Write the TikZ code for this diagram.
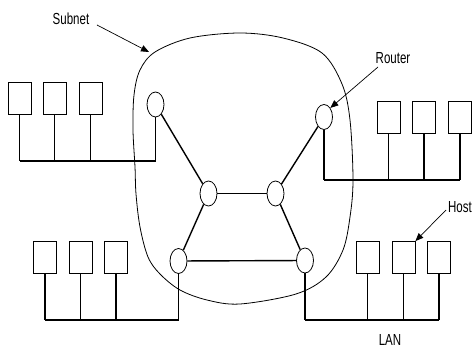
\documentclass[tikz,border=0pt]{standalone}
\usepackage{fontspec}
\setmainfont[FakeStretch=0.72]{Liberation Sans}
\usetikzlibrary{shapes.geometric,arrows.meta}
\begin{document}
\begin{tikzpicture}[x=1pt,y=-1pt,
  host/.style={draw,line width=0.8pt,minimum width=23pt,minimum height=32pt,inner sep=0pt},
  router/.style={draw,ellipse,line width=0.8pt,minimum width=17pt,minimum height=25pt,inner sep=0pt},
  link/.style={line width=1.4pt},
  bus/.style={line width=1.8pt},
  drop/.style={line width=1.1pt},
  lbl/.style={font=\fontsize{16}{16}\selectfont,anchor=base,inner sep=0pt},
  pointer/.style={line width=0.7pt,-{Triangle[length=8pt,width=6.5pt]}},
  subnet/.style={line width=0.8pt}]
\useasboundingbox (0,0) rectangle (473,347);
% subnet boundary
\draw[subnet] plot[smooth cycle,tension=0.55] coordinates {
 (240,33) (283,38) (322,53) (342,84) (350,120) (353,180) (350,217) (343,250)
 (326,277) (296,294) (240,304) (207,300) (180,290) (160,274) (148,257)
 (140,227) (136,194) (135,167) (133,130) (134,95) (140,70) (155,52) (190,38)};
% routers
\node[router] (rtl) at (155.5,104.5) {};
\node[router] (rtr) at (324,117) {};
\node[router] (rml) at (208.5,193.5) {};
\node[router] (rmr) at (275.5,193.5) {};
\node[router] (rbl) at (178.5,261) {};
\node[router] (rbr) at (305,260.5) {};
% router links
\draw[link] (rtl) -- (rml);
\draw[link] (rtr) -- (rmr);
\draw[link] (rml) -- (rmr);
\draw[link] (rml) -- (rbl);
\draw[link] (rmr) -- (rbr);
\draw[link] (rbl) -- (rbr);
% hosts
\node[host] (tl1) at (19.5,98) {};
\node[host] (tl2) at (54.5,98) {};
\node[host] (tl3) at (90.5,98) {};
\node[host] (tr1) at (388.5,117.5) {};
\node[host] (tr2) at (424,117.5) {};
\node[host] (tr3) at (460,117.5) {};
\node[host] (bl1) at (45,257.5) {};
\node[host] (bl2) at (80.5,257.5) {};
\node[host] (bl3) at (116,257.5) {};
\node[host] (br1) at (367.5,257.5) {};
\node[host] (br2) at (403.5,257.5) {};
\node[host] (br3) at (439,257.5) {};
% LANs
\coordinate (tlbus) at (0,161);
\coordinate (trbus) at (0,180);
\coordinate (blbus) at (0,320);
\coordinate (brbus) at (0,320);
\foreach \n in {tl1,tl2,tl3,rtl} \draw[drop] (\n.south) -- (\n.south |- tlbus);
\foreach \n in {tr1,tr2,tr3,rtr} \draw[drop] (\n.south) -- (\n.south |- trbus);
\foreach \n in {bl1,bl2,bl3,rbl} \draw[drop] (\n.south) -- (\n.south |- blbus);
\foreach \n in {br1,br2,br3,rbr} \draw[drop] (\n.south) -- (\n.south |- brbus);
\draw[bus] (tl1.south |- tlbus) -- (rtl.south |- tlbus);
\draw[bus] (rtr.south |- trbus) -- (tr3.south |- trbus);
\draw[bus] (bl1.south |- blbus) -- (rbl.south |- blbus);
\draw[bus] (rbr.south |- brbus) -- (br3.south |- brbus);
% labels
\node[lbl] (subnetlbl) at (71,25) {Subnet};
\node[lbl] (routerlbl) at (393,64) {Router};
\node[lbl] (hostlbl) at (460,212) {Host};
\node[lbl] (lanlbl) at (390,345) {LAN};
\coordinate (subnetfrom) at (97,25);
\coordinate (subnetto) at (149,52);
\coordinate (routerfrom) at (378,67);
\coordinate (hostfrom) at (446,210);
\draw[pointer] (subnetfrom) -- (subnetto);
\draw[pointer] (routerfrom) -- (rtr.55);
\draw[pointer] (hostfrom) -- (br2.north east);
\end{tikzpicture}
\end{document}
